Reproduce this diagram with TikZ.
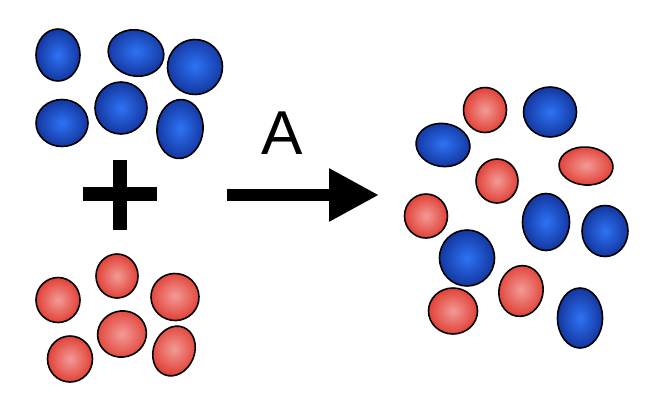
\documentclass[tikz,border=0pt]{standalone}
\usepackage{fontspec}
\setmainfont{Liberation Sans}
\usetikzlibrary{shapes.geometric,arrows.meta}
\definecolor{bluein}{RGB}{45,115,245}
\definecolor{blueout}{RGB}{20,55,160}
\definecolor{redin}{RGB}{242,155,150}
\definecolor{redout}{RGB}{225,65,55}
\tikzset{
  blob/.style={ellipse, draw=black, line width=1.6pt, inner sep=0pt},
  bblob/.style={blob, inner color=bluein, outer color=blueout},
  rblob/.style={blob, inner color=redin, outer color=redout},
  bar/.style={line width=14pt, black},
  react/.style={line width=12pt, black, -{Triangle[length=50pt,width=50pt]}},
  lbl/.style={font=\fontsize{62}{62}\selectfont, inner sep=0pt}
}
\begin{document}
\begin{tikzpicture}[x=1pt,y=-1pt]
\useasboundingbox (0,0) rectangle (652,410);
% blue reactants
\node[bblob, minimum width=44pt, minimum height=52pt] (b1) at (58,55) {};
\node[bblob, minimum width=56pt, minimum height=46pt, rotate=-12] (b2) at (136,53) {};
\node[bblob, minimum width=55pt, minimum height=55pt, rotate=-10] (b3) at (195,67) {};
\node[bblob, minimum width=52pt, minimum height=47pt] (b4) at (62,123) {};
\node[bblob, minimum width=52pt, minimum height=52pt] (b5) at (121,108) {};
\node[bblob, minimum width=46pt, minimum height=59pt, rotate=-5] (b6) at (180,129) {};
% plus
\coordinate (pl) at (83,194); \coordinate (pr) at (157,194);
\coordinate (pt) at (120,160); \coordinate (pb) at (120,230);
\draw[bar] (pl) -- (pr);
\draw[bar] (pt) -- (pb);
% red reactants
\node[rblob, minimum width=42pt, minimum height=44pt] (r1) at (117,276) {};
\node[rblob, minimum width=44pt, minimum height=45pt] (r2) at (58,300) {};
\node[rblob, minimum width=48pt, minimum height=47pt, rotate=-10] (r3) at (175,297) {};
\node[rblob, minimum width=49pt, minimum height=46pt, rotate=15] (r4) at (122,334) {};
\node[rblob, minimum width=45pt, minimum height=46pt] (r5) at (70,359) {};
\node[rblob, minimum width=41pt, minimum height=51pt, rotate=-22] (r6) at (174,351) {};
% arrow
\coordinate (as) at (227,195);
\coordinate (ae) at (379,195);
\draw[react] (as) -- (ae);
\node[lbl] (A) at (282,133) {A};
% products
\node[rblob, minimum width=43pt, minimum height=45pt] (p1) at (485,110) {};
\node[bblob, minimum width=53pt, minimum height=50pt] (p2) at (550,112) {};
\node[bblob, minimum width=54pt, minimum height=43pt, rotate=-8] (p3) at (443,145) {};
\node[rblob, minimum width=42pt, minimum height=44pt] (p4) at (497,181) {};
\node[rblob, minimum width=54pt, minimum height=38pt, rotate=-4] (p5) at (586,166) {};
\node[rblob, minimum width=43pt, minimum height=44pt] (p6) at (426,216) {};
\node[bblob, minimum width=47pt, minimum height=57pt] (p7) at (546,222) {};
\node[bblob, minimum width=46pt, minimum height=51pt] (p8) at (605,231) {};
\node[bblob, minimum width=55pt, minimum height=56pt] (p9) at (467,258) {};
\node[rblob, minimum width=44pt, minimum height=51pt, rotate=-12] (p10) at (521,291) {};
\node[rblob, minimum width=49pt, minimum height=46pt] (p11) at (453,311) {};
\node[bblob, minimum width=45pt, minimum height=60pt] (p12) at (580,318) {};
\end{tikzpicture}
\end{document}
